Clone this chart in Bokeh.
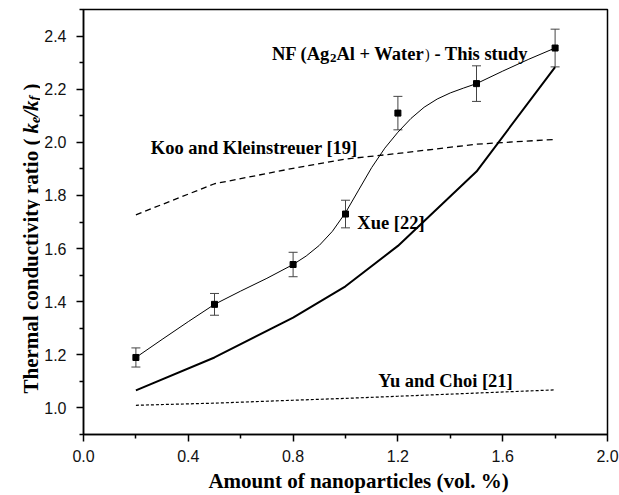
import math
from bokeh.plotting import figure
from bokeh.layouts import row
from bokeh.models import (Range1d, FixedTicker, PrintfTickFormatter, Label,
                          Whisker, ColumnDataSource, TeeHead)
from bokeh.embed import file_html
from bokeh.resources import INLINE

# ---------------- data ----------------
vol = [0.2, 0.5, 0.8, 1.0, 1.2, 1.5, 1.8]
exp_k = [1.19, 1.39, 1.54, 1.73, 2.11, 2.221, 2.355]
exp_err = [0.036, 0.041, 0.046, 0.052, 0.063, 0.067, 0.071]

fit_x = [0.2, 0.3, 0.4, 0.5, 0.6, 0.7, 0.8, 0.85, 0.9, 0.95, 1.0, 1.05, 1.1,
         1.15, 1.2, 1.25, 1.3, 1.35, 1.4, 1.45, 1.5, 1.6, 1.7, 1.8]
fit_k = [1.19, 1.258, 1.325, 1.39, 1.44, 1.488, 1.54, 1.572, 1.612, 1.665,
         1.735, 1.82, 1.905, 1.978, 2.038, 2.09, 2.132, 2.163, 2.186, 2.204,
         2.221, 2.268, 2.313, 2.355]

xue_k = [1.066, 1.19, 1.34, 1.458, 1.61, 1.89, 2.283]
koo_k = [1.727, 1.844, 1.902, 1.937, 1.958, 1.993, 2.011]
yu_k = [1.01, 1.018, 1.029, 1.036, 1.044, 1.056, 1.068]

x_major = [0.0, 0.4, 0.8, 1.2, 1.6, 2.0]
x_minor = [0.2, 0.6, 1.0, 1.4, 1.8]
y_major = [1.0, 1.2, 1.4, 1.6, 1.8, 2.0, 2.2, 2.4]
y_minor = [0.9, 1.1, 1.3, 1.5, 1.7, 1.9, 2.1, 2.3, 2.5]

x_title = "Amount of nanoparticles (vol. %)"
y_title = "Thermal conductivity ratio ("

SERIF = "Liberation Serif"
SANS = "Liberation Sans"
LEFT_W = 40

# ---------------- main plot ----------------
p = figure(width=619 - LEFT_W, height=495, output_backend="svg",
           toolbar_location=None,
           x_range=Range1d(0, 2.0), y_range=Range1d(0.9, 2.5),
           min_border_left=83 - LEFT_W, min_border_right=12, min_border_top=9,
           min_border_bottom=61)
p.background_fill_color = "white"
p.border_fill_color = "white"
p.outline_line_color = "black"
p.outline_line_width = 1.5
p.xgrid.visible = False
p.ygrid.visible = False

for ax, maj, mnr in ((p.xaxis[0], x_major, x_minor), (p.yaxis[0], y_major, y_minor)):
    ax.ticker = FixedTicker(ticks=maj, minor_ticks=mnr)
    ax.formatter = PrintfTickFormatter(format="%.1f")
    ax.axis_line_width = 1.5
    ax.axis_line_color = "black"
    ax.major_tick_line_width = 1.5
    ax.minor_tick_line_width = 1.5
    ax.major_tick_in = 0
    ax.major_tick_out = 7
    ax.minor_tick_in = 0
    ax.minor_tick_out = 4
    ax.major_label_text_font = SANS
    ax.major_label_text_font_size = "16px"
    ax.major_label_text_color = "#111111"
    ax.major_label_standoff = 10

xa = p.xaxis[0]
xa.major_label_standoff = 8
xa.axis_label = "\u00a0" * 5 + x_title
xa.axis_label_text_font = SERIF
xa.axis_label_text_font_style = "bold"
xa.axis_label_text_font_size = "21px"
xa.axis_label_text_color = "black"
xa.axis_label_standoff = 4

# ---------------- series ----------------
p.line(vol, yu_k, line_color="black", line_width=1.2, line_dash="3 2")
p.line(vol, koo_k, line_color="black", line_width=1.3, line_dash="6 4")
p.line(vol, xue_k, line_color="black", line_width=2)
p.line(fit_x, fit_k, line_color="black", line_width=1)

src = ColumnDataSource(dict(x=vol, y=exp_k,
                            lo=[k - e for k, e in zip(exp_k, exp_err)],
                            hi=[k + e for k, e in zip(exp_k, exp_err)]))
p.add_layout(Whisker(source=src, base="x", upper="hi", lower="lo",
                     line_color="#444444", line_width=1,
                     upper_head=TeeHead(size=9, line_color="#444444", line_width=1),
                     lower_head=TeeHead(size=9, line_color="#444444", line_width=1)))
p.scatter("x", "y", source=src, marker="square", size=6, color="black")


def lab(fig, x, y, text, size, xo=0, yo=0, style="bold", angle=0, align="left",
        units="data"):
    fig.add_layout(Label(x=x, y=y, text=text, x_offset=xo, y_offset=yo,
                         x_units=units, y_units=units,
                         text_font=SERIF, text_font_size=size,
                         text_font_style=style, text_color="black",
                         angle=angle, text_align=align,
                         text_baseline="alphabetic"))


F = "18.5px"
ax0, ay0 = 0.719, 2.331
lab(p, ax0, ay0, "NF (Ag", F)
lab(p, ax0, ay0, "2", "13px", xo=58.0, yo=-4)
lab(p, ax0, ay0, "Al + Water", F, xo=64.5)
lab(p, ax0, ay0, ")", "14px", xo=153.2, style="normal")
lab(p, ax0, ay0, "- This study", F, xo=162.5)

lab(p, 0.257, 1.979, "Koo and Kleinstreuer [19]", F)
lab(p, 1.045, 1.695, "Xue [22]", F)
lab(p, 1.125, 1.103, "Yu and Choi [21]", F)

# ---------------- left strip holding the y-axis title ----------------
q = figure(width=LEFT_W, height=495, output_backend="svg", toolbar_location=None,
           x_range=Range1d(0, LEFT_W), y_range=Range1d(0, 495),
           x_axis_type=None, y_axis_type=None,
           min_border_left=0, min_border_right=0, min_border_top=0,
           min_border_bottom=0)
q.outline_line_color = None
q.background_fill_color = "white"
q.border_fill_color = "white"
q.xgrid.visible = False
q.ygrid.visible = False

A = math.pi / 2
yx, yy = 30, 41
S = "screen"
lab(q, yx, yy, y_title, "21px", angle=A, units=S)
lab(q, yx, yy, "k", "21px", yo=260.1, style="bold italic", angle=A, units=S)
lab(q, yx, yy, "e", "14px", yo=270.6, xo=4, style="bold italic", angle=A, units=S)
lab(q, yx, yy, "/", "21px", yo=276.8, style="bold italic", angle=A, units=S)
lab(q, yx, yy, "k", "21px", yo=282.6, style="bold italic", angle=A, units=S)
lab(q, yx, yy, "f", "14px", yo=293.1, xo=4, style="bold italic", angle=A, units=S)
lab(q, yx, yy, ")", "21px", yo=303.0, angle=A, units=S)

layout = row(q, p, spacing=0)
open("out.html", "w").write(file_html(layout, INLINE))
